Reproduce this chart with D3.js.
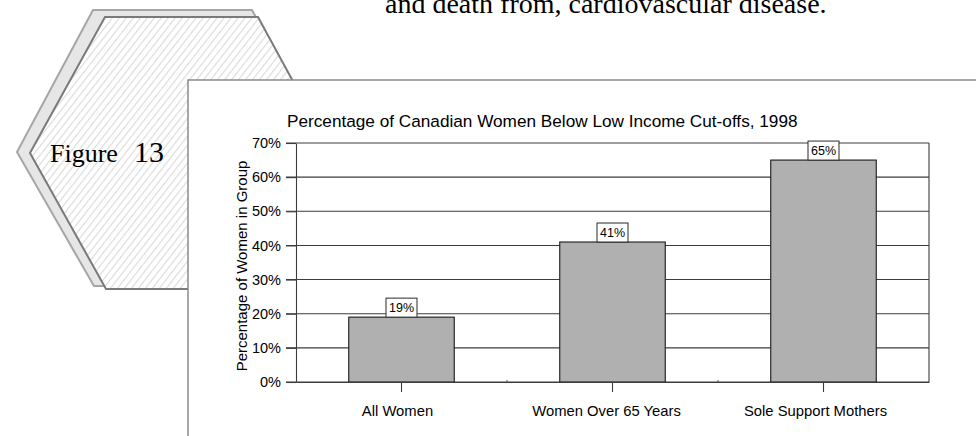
<!DOCTYPE html>
<html>
<head>
<meta charset="utf-8">
<script src="https://cdn.jsdelivr.net/npm/d3@7"></script>
<style>
  html, body { margin: 0; padding: 0; background: #fff; }
  svg { display: block; }
</style>
</head>
<body>
<svg id="chart" width="976" height="436"></svg>
<script>
// ---- Data ----
const categories = ["All Women", "Women Over 65 Years", "Sole Support Mothers"];
const values = [19, 41, 65];
const yTicks = [0, 10, 20, 30, 40, 50, 60, 70];
const chartTitle = "Percentage of Canadian Women Below Low Income Cut-offs, 1998";
const yAxisTitle = "Percentage of Women in Group";
const bodyText = "and death from, cardiovascular disease.";
const figureWord = "Figure";
const figureNumber = "13";

const svg = d3.select("#chart");

// ---- Decorative hexagon ----
const defs = svg.append("defs");
const pat = defs.append("pattern")
  .attr("id", "hatch")
  .attr("patternUnits", "userSpaceOnUse")
  .attr("width", 5.5).attr("height", 10)
  .attr("patternTransform", "rotate(38)");
pat.append("rect").attr("width", 5.5).attr("height", 10).attr("fill", "#fff");
pat.append("line").attr("x1", 0.5).attr("y1", 0).attr("x2", 0.5).attr("y2", 10)
  .attr("stroke", "#dadada").attr("stroke-width", 1.2);

const line = d3.line();
// shadow hexagon
svg.append("path")
  .attr("d", line([[93, 10], [252, 10], [326, 148], [252, 286], [94, 286], [17, 152]]) + "Z")
  .attr("fill", "#e6e6e6").attr("stroke", "#a6a6a6").attr("stroke-width", 2);
// main hexagon
svg.append("path")
  .attr("d", line([[105, 17], [258, 17], [332, 153], [258, 289], [106, 289], [30, 153]]) + "Z")
  .attr("fill", "url(#hatch)").attr("stroke", "#7a7a7a").attr("stroke-width", 2);

svg.append("text").attr("x", 50).attr("y", 162)
  .attr("font-family", "Liberation Serif, Times New Roman, serif")
  .attr("font-size", 26).attr("fill", "#000")
  .text(figureWord)
  .append("tspan").attr("dx", 16).attr("font-size", 30).text(figureNumber);

// body text at top (cut off at the top edge, as in the source page)
svg.append("text").attr("x", 385).attr("y", 13)
  .attr("font-family", "Liberation Serif, Times New Roman, serif")
  .attr("font-size", 28).attr("fill", "#000")
  .text(bodyText);

// ---- Chart panel ----
svg.append("rect").attr("x", 188).attr("y", 80).attr("width", 820).attr("height", 400)
  .attr("fill", "#fff").attr("stroke", "#8a8a8a").attr("stroke-width", 1.5);

const plot = { left: 296, right: 929, top: 143, bottom: 382 };
const x = d3.scaleBand().domain(categories).range([plot.left, plot.right])
  .paddingInner(0.5).paddingOuter(0.25);
const y = d3.scaleLinear().domain([0, 70]).range([plot.bottom, plot.top]);
const font = "Liberation Sans, Arial, Helvetica, sans-serif";

// title
svg.append("text").attr("x", 287).attr("y", 127)
  .attr("font-family", font).attr("font-size", 17.2).attr("fill", "#000")
  .text(chartTitle);

// gridlines
const grid = svg.append("g");
grid.selectAll("line").data(yTicks).join("line")
  .attr("x1", plot.left - 10).attr("x2", plot.right)
  .attr("y1", d => y(d)).attr("y2", d => y(d))
  .attr("stroke", "#3c3c3c").attr("stroke-width", 1.1);

// right border
svg.append("line").attr("x1", plot.right).attr("x2", plot.right)
  .attr("y1", plot.top).attr("y2", plot.bottom)
  .attr("stroke", "#3c3c3c").attr("stroke-width", 1.1);

// y axis via d3 axis
const yAxis = svg.append("g").attr("transform", `translate(${plot.left},0)`)
  .call(d3.axisLeft(y).tickValues(yTicks).tickFormat(d => d + "%").tickSize(10).tickSizeOuter(0).tickPadding(5));
yAxis.select(".domain").attr("stroke", "#3c3c3c").attr("stroke-width", 1.1);
yAxis.selectAll(".tick line").attr("stroke", "#3c3c3c").attr("stroke-width", 1.1);
yAxis.selectAll("text").attr("font-family", font).attr("font-size", 14.5).attr("fill", "#000");

// bars
svg.append("g").selectAll("rect").data(values).join("rect")
  .attr("x", (d, i) => x(categories[i]))
  .attr("y", d => y(d))
  .attr("width", x.bandwidth())
  .attr("height", d => y(0) - y(d))
  .attr("fill", "#b0b0b0").attr("stroke", "#1a1a1a").attr("stroke-width", 1.1);

// x axis line + ticks
const xAxis = svg.append("g").attr("transform", `translate(0,${plot.bottom})`)
  .call(d3.axisBottom(x).tickSize(10).tickSizeOuter(0).tickPadding(13));
xAxis.select(".domain").attr("stroke", "#3c3c3c").attr("stroke-width", 1.1);
xAxis.selectAll(".tick line").attr("stroke", "#3c3c3c").attr("stroke-width", 1.1);
xAxis.selectAll("text").attr("font-family", font).attr("font-size", 14.8).attr("fill", "#000")
  .attr("dy", "0.71em").attr("dx", (d, i) => -4 - 2 * i);

// small boundary marks between categories
svg.append("g").selectAll("line").data(categories.slice(1)).join("line")
  .attr("x1", c => x(c) - (x.step() - x.bandwidth()) / 2)
  .attr("x2", c => x(c) - (x.step() - x.bandwidth()) / 2)
  .attr("y1", plot.bottom - 2).attr("y2", plot.bottom)
  .attr("stroke", "#555").attr("stroke-width", 1);

// y axis title
svg.append("text")
  .attr("transform", `translate(247,266) rotate(-90)`)
  .attr("text-anchor", "middle")
  .attr("font-family", font).attr("font-size", 15).attr("fill", "#000")
  .text(yAxisTitle);

// value labels with boxes
const lbl = svg.append("g").selectAll("g").data(values).join("g")
  .attr("transform", (d, i) => `translate(${x(categories[i]) + x.bandwidth() / 2},${y(d)})`);
lbl.append("rect")
  .attr("x", -15.5).attr("y", -19).attr("width", 31).attr("height", 19)
  .attr("fill", "#fff").attr("stroke", "#2a2a2a").attr("stroke-width", 1);
lbl.append("text")
  .attr("x", 0).attr("y", -5.5).attr("text-anchor", "middle")
  .attr("font-family", font).attr("font-size", 12.5).attr("fill", "#000")
  .text(d => d + "%");
</script>
</body>
</html>
